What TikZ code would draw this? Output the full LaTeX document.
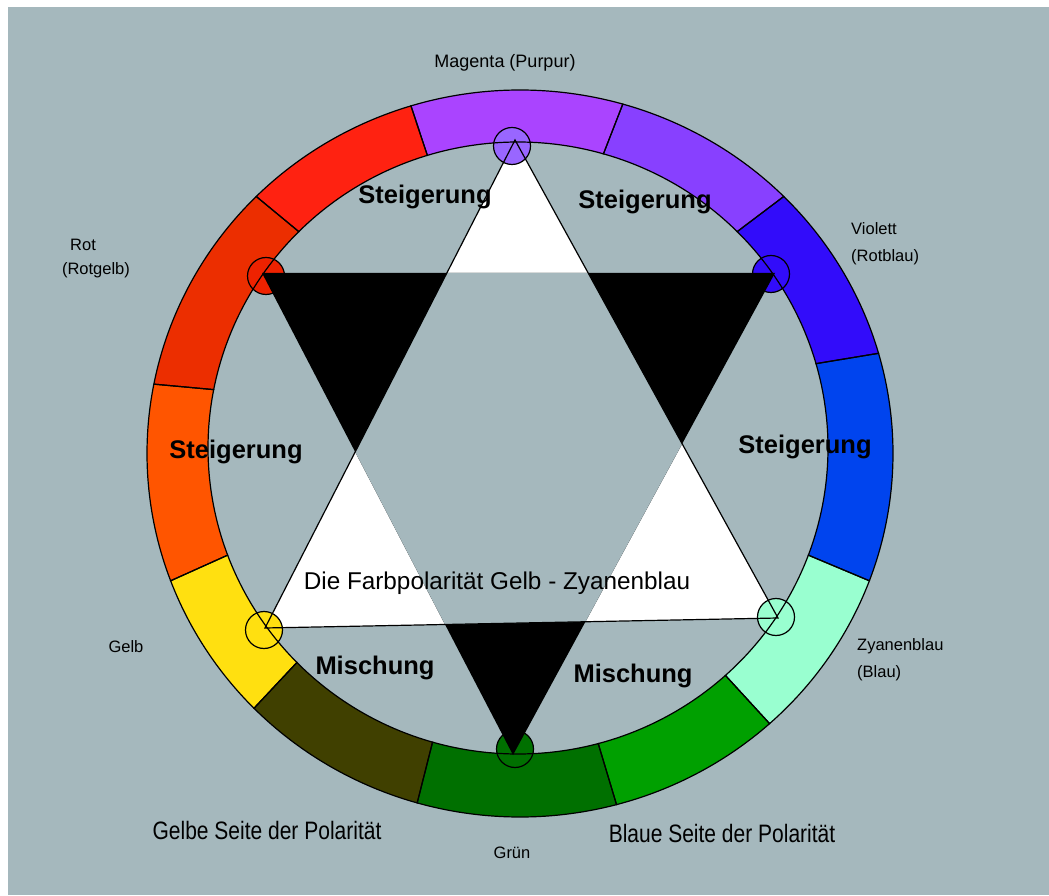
\documentclass[tikz,border=0pt]{standalone}
\usepackage{fontspec}
\setmainfont{Liberation Sans}
\usetikzlibrary{calc}
\definecolor{bg}{RGB}{165,184,189}
\definecolor{cMag}{RGB}{170,68,255}
\definecolor{cVio}{RGB}{136,64,255}
\definecolor{cBV}{RGB}{50,12,250}
\definecolor{cBlue}{RGB}{0,68,238}
\definecolor{cCyan}{RGB}{153,255,208}
\definecolor{cGreen}{RGB}{0,160,0}
\definecolor{cDG}{RGB}{0,112,0}
\definecolor{cOlive}{RGB}{64,64,0}
\definecolor{cYel}{RGB}{255,224,16}
\definecolor{cOra}{RGB}{255,85,0}
\definecolor{cRO}{RGB}{236,46,0}
\definecolor{cRed}{RGB}{255,34,17}
\definecolor{cMagC}{RGB}{153,102,255}
\definecolor{cRedC}{RGB}{238,34,0}
\newcommand\ringseg[3]{\path[#1] ($(O)+(#2:373 and 363.5)$) arc[start angle=#2, end angle=#3, x radius=373, y radius=363.5] -- ($(I)+(#3:310 and 306)$) arc[start angle=#3, end angle=#2, x radius=310, y radius=306] -- cycle;}
\begin{document}
\begin{tikzpicture}[x=1pt,y=1pt,
  vcirc/.style={circle, draw=black, line width=1.2pt, minimum size=37pt, inner sep=0pt},
  small/.style={font=\fontsize{16.5}{27}\selectfont, inner sep=0pt, align=left},
  mid/.style={font=\fontsize{21}{25}\selectfont, inner sep=0pt},
  big/.style={font=\fontsize{25.5}{30}\selectfont\bfseries, inner sep=0pt},
  ring/.style={draw=black, line width=1.2pt}]
\useasboundingbox (0,0) rectangle (1049,895);
\fill[white] (0,0) rectangle (1049,895);
\fill[bg] (8,0) rectangle (1049,888);
\coordinate (O) at (520,441.5);
\coordinate (I) at (518,447);
% ring fills
\ringseg{fill=cMag}{107}{74}
\ringseg{fill=cVio}{74}{45}
\ringseg{fill=cBV}{45}{16}
\ringseg{fill=cBlue}{16}{-20.5}
\ringseg{fill=cCyan}{-20.5}{-48}
\ringseg{fill=cGreen}{-48}{-75}
\ringseg{fill=cDG}{-75}{-106}
\ringseg{fill=cOlive}{-106}{-135.5}
\ringseg{fill=cYel}{-135.5}{-159.5}
\ringseg{fill=cOra}{-159.5}{-191}
\ringseg{fill=cRO}{-191}{-225}
\ringseg{fill=cRed}{-225}{-253}
% triangle vertices
\coordinate (T) at (515,755);
\coordinate (BL) at (265,267);
\coordinate (BR) at (778,277);
\coordinate (TL) at (262,622);
\coordinate (TR) at (775,622);
\coordinate (B) at (513,140);
% white triangle
\fill[white] (T) -- (BL) -- (BR) -- cycle;
% vertex circles
\node[vcirc, fill=cMagC] (cM) at (512,749) {};
\node[vcirc, fill=cBV] (cV) at (771,621) {};
\node[vcirc, fill=cRedC] (cR) at (266,619) {};
\node[vcirc, fill=cYel] (cY) at (264,265) {};
\node[vcirc, fill=cCyan] (cZ) at (776,278) {};
\node[vcirc, fill=cDG] (cG) at (515,146) {};
% ring outlines
\ringseg{ring}{107}{74}
\ringseg{ring}{74}{45}
\ringseg{ring}{45}{16}
\ringseg{ring}{16}{-20.5}
\ringseg{ring}{-20.5}{-48}
\ringseg{ring}{-48}{-75}
\ringseg{ring}{-75}{-106}
\ringseg{ring}{-106}{-135.5}
\ringseg{ring}{-135.5}{-159.5}
\ringseg{ring}{-159.5}{-191}
\ringseg{ring}{-191}{-225}
\ringseg{ring}{-225}{-253}
% black triangle
\fill[black] (TL) -- (TR) -- (B) -- cycle;
% central hexagon
\begin{scope}
\clip (T) -- (BL) -- (BR) -- cycle;
\fill[bg] (TL) -- (TR) -- (B) -- cycle;
\end{scope}
% white triangle outline
\draw[line width=1.2pt, line join=miter] (T) -- (BL) -- (BR) -- cycle;
% labels
\node[small, font=\fontsize{18}{22}\selectfont] (lMag) at (505,832) {Magenta (Purpur)};
\node[small, anchor=west] (lVio) at (851,651) {Violett\\(Rotblau)};
\node[small] (lRot) at (83,650) {Rot};
\node[small] (lRotg) at (96,625) {(Rotgelb)};
\node[small] (lGelb) at (126,248) {Gelb};
\node[small, anchor=west] (lZya) at (857,235) {Zyanenblau\\(Blau)};
\node[small] (lGruen) at (512,42) {Grün};
\node[mid] (lGS) at (267,65) {\scalebox{1}[1.2]{Gelbe Seite der Polarität}};
\node[mid] (lBS) at (722,62) {\scalebox{1}[1.2]{Blaue Seite der Polarität}};
\node[mid, font=\fontsize{24.3}{28}\selectfont] (lPol) at (497,312) {Die Farbpolarität Gelb - Zyanenblau};
\node[big] (st1) at (425,698) {Steigerung};
\node[big] (st2) at (645,693) {Steigerung};
\node[big] (st3) at (236,443) {Steigerung};
\node[big] (st4) at (805,448) {Steigerung};
\node[big] (mi1) at (375,227) {Mischung};
\node[big] (mi2) at (633,219) {Mischung};
\end{tikzpicture}
\end{document}
